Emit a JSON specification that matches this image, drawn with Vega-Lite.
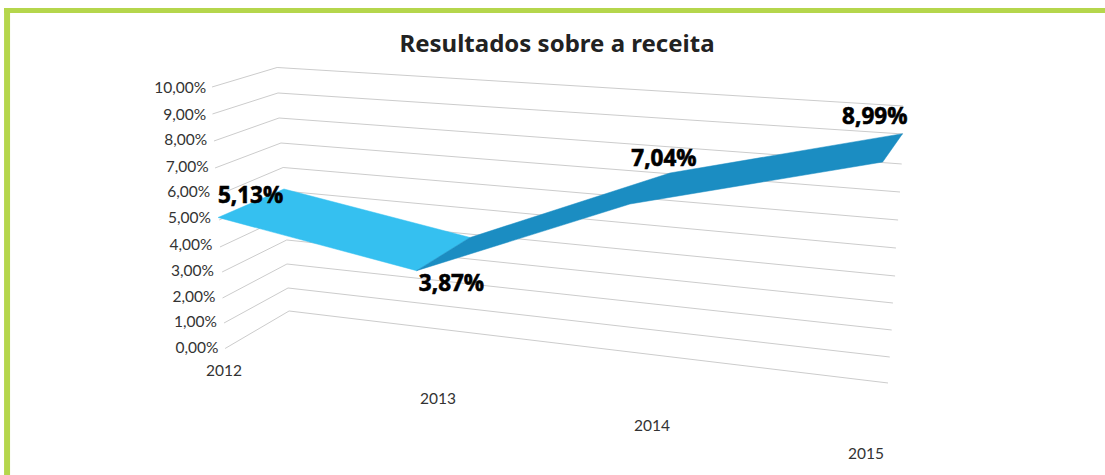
{"$schema":"https://vega.github.io/schema/vega-lite/v6.json","width":1105,"height":475,"padding":0,"autosize":"none","background":"white","view":{"stroke":null},
"title":{"text":"Resultados sobre a receita","anchor":"middle","offset":-57,"dx":4.5,"font":"Noto Sans","fontSize":24,"fontWeight":"bold","color":"#222222"},
"datasets":{
"frame":[{"x":2010.972,"x2":2011.0,"y":13.027,"y2":-4.866},{"x":2010.972,"x2":2016.117,"y":13.027,"y2":12.835}],
"grid":[
{"g":10,"i":0,"x":2011.944,"y":10.0},{"g":10,"i":1,"x":2012.248,"y":10.747},{"g":10,"i":2,"x":2015.173,"y":9.272},
{"g":9,"i":0,"x":2011.946,"y":8.966},{"g":9,"i":1,"x":2012.252,"y":9.77},{"g":9,"i":2,"x":2015.173,"y":8.199},
{"g":8,"i":0,"x":2011.953,"y":7.931},{"g":8,"i":1,"x":2012.257,"y":8.812},{"g":8,"i":2,"x":2015.167,"y":7.05},
{"g":7,"i":0,"x":2011.958,"y":6.897},{"g":7,"i":1,"x":2012.266,"y":7.854},{"g":7,"i":2,"x":2015.159,"y":5.977},
{"g":6,"i":0,"x":2011.972,"y":5.862},{"g":6,"i":1,"x":2012.276,"y":6.916},{"g":6,"i":2,"x":2015.15,"y":4.904},
{"g":5,"i":0,"x":2011.977,"y":4.904},{"g":5,"i":1,"x":2012.28,"y":6.015},{"g":5,"i":2,"x":2015.14,"y":3.831},
{"g":4,"i":0,"x":2011.981,"y":3.87},{"g":4,"i":1,"x":2012.29,"y":5.057},{"g":4,"i":2,"x":2015.136,"y":2.759},
{"g":3,"i":0,"x":2011.991,"y":2.912},{"g":3,"i":1,"x":2012.293,"y":4.138},{"g":3,"i":2,"x":2015.126,"y":1.724},
{"g":2,"i":0,"x":2011.993,"y":1.916},{"g":2,"i":1,"x":2012.294,"y":3.218},{"g":2,"i":2,"x":2015.12,"y":0.69},
{"g":1,"i":0,"x":2012.0,"y":0.958},{"g":1,"i":1,"x":2012.299,"y":2.299},{"g":1,"i":2,"x":2015.111,"y":-0.345},
{"g":0,"i":0,"x":2012.005,"y":-0.019},{"g":0,"i":1,"x":2012.304,"y":1.418},{"g":0,"i":2,"x":2015.103,"y":-1.341}],
"light":[{"i":0,"x":2011.972,"y":5.0},{"i":1,"x":2012.28,"y":6.092},{"i":2,"x":2013.15,"y":4.234},{"i":3,"x":2012.9,"y":2.962},{"i":4,"x":2011.972,"y":5.0}],
"dark":[{"i":0,"x":2012.9,"y":2.962},{"i":1,"x":2013.15,"y":4.234},{"i":2,"x":2014.084,"y":6.705},{"i":3,"x":2015.171,"y":8.211},{"i":4,"x":2015.078,"y":7.126},{"i":5,"x":2013.897,"y":5.517},{"i":6,"x":2012.9,"y":2.962}],
"ticks":[{"t":"10,00%","x":2011.916,"y":10.0},{"t":"9,00%","x":2011.916,"y":8.98},{"t":"8,00%","x":2011.921,"y":7.99},{"t":"7,00%","x":2011.928,"y":6.99},{"t":"6,00%","x":2011.935,"y":6.0},{"t":"5,00%","x":2011.939,"y":5.0},{"t":"4,00%","x":2011.946,"y":4.0},{"t":"3,00%","x":2011.953,"y":3.0},{"t":"2,00%","x":2011.96,"y":2.01},{"t":"1,00%","x":2011.967,"y":1.02},{"t":"0,00%","x":2011.974,"y":0.02}],
"years":[{"t":"2012","x":2012,"y":-0.824},{"t":"2013","x":2013,"y":-1.897},{"t":"2014","x":2014,"y":-2.969},{"t":"2015","x":2015,"y":-4.042}],
"labels":[{"t":"5,13%","x":2012.124,"y":5.862},{"t":"3,87%","x":2013.063,"y":2.49},{"t":"7,04%","x":2014.056,"y":7.28},{"t":"8,99%","x":2015.041,"y":8.889}]
},
"encoding":{
"x":{"field":"x","type":"quantitative","axis":null,"scale":{"domain":[2010.953,2016.117],"nice":false,"zero":false}},
"y":{"field":"y","type":"quantitative","axis":null,"scale":{"domain":[-4.866,13.333],"nice":false,"zero":false}}
},
"layer":[
{"data":{"name":"frame"},"mark":{"type":"rect","color":"#b5d64c"},"encoding":{"x2":{"field":"x2"},"y2":{"field":"y2"}}},
{"data":{"name":"grid"},"mark":{"type":"line","color":"#cccccc","strokeWidth":1},"encoding":{"detail":{"field":"g"},"order":{"field":"i"}}},
{"data":{"name":"light"},"mark":{"type":"line","fill":"#35c0f0","stroke":"#35c0f0","strokeWidth":0.5},"encoding":{"order":{"field":"i"}}},
{"data":{"name":"dark"},"mark":{"type":"line","fill":"#1b8dc2","stroke":"#1b8dc2","strokeWidth":0.5},"encoding":{"order":{"field":"i"}}},
{"data":{"name":"ticks"},"mark":{"type":"text","align":"right","baseline":"middle","dy":1,"font":"Lato","fontSize":15.5,"color":"#333333"},"encoding":{"text":{"field":"t"}}},
{"data":{"name":"years"},"mark":{"type":"text","align":"center","baseline":"middle","dy":1,"font":"Lato","fontSize":15.5,"color":"#333333"},"encoding":{"text":{"field":"t"}}},
{"data":{"name":"labels"},"mark":{"type":"text","align":"center","baseline":"middle","dy":1,"font":"Open Sans","fontWeight":"bold","fontSize":22.5,"color":"#000000","stroke":"#000000","strokeWidth":0.6},"encoding":{"text":{"field":"t"}}}
]}
